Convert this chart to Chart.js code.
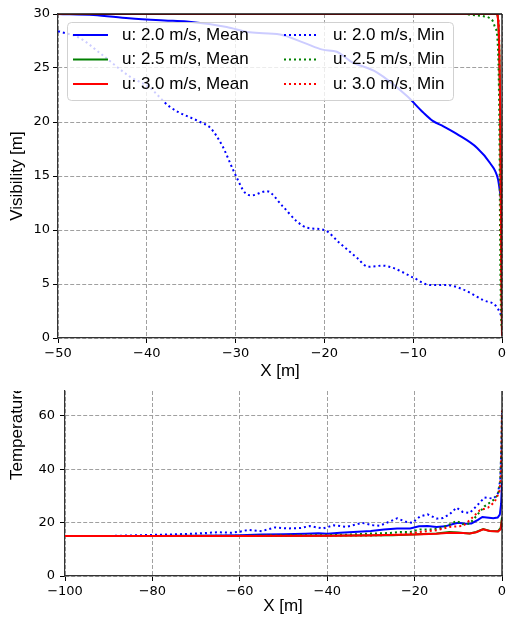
<!DOCTYPE html>
<html>
<head>
<meta charset="utf-8">
<script src="https://cdn.jsdelivr.net/npm/chart.js@4"></script>
<style>
  html, body { margin: 0; padding: 0; background: #fff; }
  #wrap { position: relative; width: 506px; height: 618px; }
  canvas { position: absolute; left: 0; }
</style>
</head>
<body>
<div id="wrap">
  <canvas id="visChart" width="506" height="380" style="top:0px"></canvas>
  <canvas id="tempChart" width="506" height="238" style="top:380px"></canvas>
</div>
<script>
// ---- series names / colours (legend order: means then mins)
const seriesLabels = ["u: 2.0 m/s, Mean", "u: 2.5 m/s, Mean", "u: 3.0 m/s, Mean",
                      "u: 2.0 m/s, Min", "u: 2.5 m/s, Min", "u: 3.0 m/s, Min"];
const seriesColors = ["#0000ff", "#008000", "#ff0000", "#0000ff", "#008000", "#ff0000"];

// ---- top panel: visibility [m] vs X [m]
const visTicksX = [-50, -40, -30, -20, -10, 0];
const visTicksY = [0, 5, 10, 15, 20, 25, 30];

const visX_u20_mean = [-50, -46, -42, -38, -35.5, -31, -28.4, -25, -22.2, -20.2, -18.6, -17, -14.1, -10.7, -8.9, -7.8, -6.6, -5.1, -2.8, -1.35, -0.45, -0.15, 0];
const visY_u20_mean = [30, 29.9, 29.6, 29.4, 29.3, 28.8, 28.3, 28.1, 27.3, 26.7, 26.5, 25.6, 24.6, 22.4, 20.9, 20.1, 19.6, 18.9, 17.6, 16.2, 14.7, 13.1, 12.5];

const visX_u25_mean = [-50, -0.6, -0.45, -0.3, -0.2, -0.1, 0];
const visY_u25_mean = [30, 30, 29.6, 26.5, 21, 10, 0.3];

const visX_u30_mean = [-50, -0.6, -0.45, -0.3, -0.2, -0.1, 0];
const visY_u30_mean = [30, 30, 29.5, 26, 21, 10, 0.2];

const visX_u20_min = [-50, -47.6, -45.3, -41.9, -39.7, -37.4, -34, -32.9, -31.5, -30.3, -29.9, -29, -28.2, -26.5, -24.7, -23.1, -21.9, -20, -18.3, -16.3, -15.1, -13.4, -12.3, -10, -8.1, -6.2, -4.4, -2.1, -0.6, 0];
const visY_u20_min = [28.4, 27.8, 26.4, 24.2, 23.2, 21.4, 20.0, 19.5, 17.8, 15.6, 14.9, 13.5, 13.2, 13.6, 12.2, 10.8, 10.2, 10.0, 8.8, 7.4, 6.6, 6.7, 6.5, 5.6, 4.9, 4.9, 4.5, 3.5, 2.9, 1.9];

const visX_u25_min = [-50, -4.4, -3.3, -2.1, -1.35, -1.0, -0.8, -0.5, -0.3, -0.2, -0.1, 0];
const visY_u25_min = [30, 30, 29.9, 29.8, 29.6, 29.3, 28.8, 27.5, 20, 8, 2, 0.8];

const visX_u30_min = [-50, -0.6, -0.4, -0.3, -0.2, -0.1, 0];
const visY_u30_min = [30, 30, 29.5, 27, 18, 6, 0.5];

// ---- bottom panel: temperature vs X [m]
const tempTicksX = [-100, -80, -60, -40, -20, 0];
const tempTicksY = [0, 20, 40, 60];
const tempMaxY = 69.3;

const tempX_u20_mean = [-100, -90, -80, -72, -65, -60, -55, -50, -45, -42, -40, -37, -33, -30, -27, -24, -21, -19, -17, -15, -13, -11, -10, -8.5, -7, -5.5, -4.5, -3, -2, -1, -0.5, -0.2, 0];
const tempY_u20_mean = [15.0, 15.0, 15.0, 15.1, 15.2, 15.3, 15.5, 15.6, 15.8, 16.0, 15.8, 16.2, 16.6, 16.9, 17.4, 17.8, 17.8, 18.6, 18.7, 18.4, 18.6, 19.6, 19.9, 19.6, 19.7, 21.0, 22.1, 21.8, 21.6, 21.9, 23, 27, 35];

const tempX_u25_mean = [-100, -60, -40, -25, -15, -12, -10, -8.9, -7.4, -5.9, -4.3, -2.8, -0.9, -0.3, 0];
const tempY_u25_mean = [15.0, 15.0, 15.1, 15.3, 15.9, 16.5, 16.3, 16.1, 15.9, 16.5, 17.6, 16.9, 16.8, 18, 22];

const tempX_u30_mean = [-100, -60, -40, -30, -20, -15, -12, -8.9, -7.4, -5.9, -4.3, -2.8, -0.9, -0.3, 0];
const tempY_u30_mean = [15.0, 15.0, 15.1, 15.3, 15.5, 15.8, 16.2, 16.1, 15.9, 16.4, 17.5, 16.9, 16.7, 17.5, 21];

const tempX_u20_min = [-100, -90, -85, -80, -75, -70, -65, -62, -60, -58, -55, -52, -49, -46, -44, -41, -38.5, -35.5, -32, -29.5, -28, -24, -22, -20.5, -18.8, -17, -15, -13.5, -12, -10.4, -9, -7.4, -6, -4, -2, -1, -0.4, -0.1, 0];
const tempY_u20_min = [15.0, 15.0, 15.2, 15.4, 15.6, 15.9, 16.4, 16.2, 16.6, 17.3, 16.8, 18.2, 17.8, 18.0, 18.7, 17.8, 19.0, 18.4, 19.9, 19.0, 18.8, 21.6, 20.3, 19.9, 22.3, 23.1, 21.5, 21.7, 23.1, 25.6, 24.0, 23.6, 25.9, 29.4, 29.0, 30.5, 35.9, 50, 61];

const tempX_u25_min = [-100, -80, -60, -50, -40, -35, -30, -25.6, -23.4, -21, -18.8, -16.5, -14.3, -12, -10.4, -8.9, -7.4, -5.9, -4, -2, -0.9, -0.4, -0.15, 0];
const tempY_u25_min = [15.0, 15.0, 15.1, 15.2, 15.3, 15.5, 15.9, 16.1, 16.5, 16.5, 17.4, 17.4, 17.8, 19.3, 20.6, 19.4, 19.6, 22.4, 26.1, 28.4, 30.5, 35, 48, 61];

const tempX_u30_min = [-100, -80, -60, -40, -30, -25, -22, -18.8, -15, -12, -8.9, -7.4, -5.1, -3.2, -1.7, -0.6, -0.3, -0.1, 0];
const tempY_u30_min = [15.0, 15.0, 15.0, 15.1, 15.2, 15.4, 15.7, 16.5, 17.1, 18.4, 18.75, 20.9, 24.6, 25.6, 27.7, 31.5, 36, 50, 62];

// ---- helpers
function pts(xs, ys) {
  return xs.map((x, i) => ({ x: x, y: ys[i] }));
}

function makeSets(pairs, smooth) {
  return pairs.map((p, i) => ({
    label: seriesLabels[i],
    data: pts(p[0], p[1]),
    borderColor: seriesColors[i],
    borderWidth: 2,
    borderDash: i >= 3 ? [2, 3] : [],
    pointRadius: 0,
    fill: false,
    order: 6 - i,
    cubicInterpolationMode: smooth ? "monotone" : "default",
    tension: 0
  }));
}

const minus = v => String(v).replace("-", "\u2212");
const tickFont = { family: "DejaVu Sans", size: 13 };
const labelFont = '17px "Liberation Sans"';

function xAxis(ticks, h) {
  return {
    type: "linear",
    min: ticks[0],
    max: ticks[ticks.length - 1],
    afterBuildTicks: s => { s.ticks = ticks.map(v => ({ value: v })); },
    ticks: { color: "#000", font: tickFont, padding: 3, maxRotation: 0, autoSkip: false, callback: minus },
    grid: { color: "#a0a0a0", lineWidth: 1, tickColor: "#000", tickLength: 5, tickBorderDash: [] },
    border: { color: "#333", width: 1.2, dash: [4, 2] },
    afterFit: s => { s.height = h; s.paddingLeft = 0; s.paddingRight = 0; }
  };
}

function yAxis(ticks, max, w, pad) {
  return {
    min: 0,
    max: max,
    afterBuildTicks: s => { s.ticks = ticks.map(v => ({ value: v })); },
    ticks: { color: "#000", font: tickFont, padding: pad, autoSkip: false, callback: minus },
    grid: { color: "#a0a0a0", lineWidth: 1, tickColor: "#000", tickLength: 5, tickBorderDash: [] },
    border: { color: "#333", width: 1.2, dash: [4, 2] },
    afterFit: s => { s.width = w; s.paddingTop = 0; s.paddingBottom = 0; }
  };
}

// spines on top / right, axis titles
function decor(opts) {
  return {
    id: "decor",
    afterDraw(chart) {
      const ctx = chart.ctx, a = chart.chartArea;
      ctx.save();
      ctx.strokeStyle = "#111";
      ctx.lineWidth = 1.3;
      ctx.beginPath();
      if (opts.top) { ctx.moveTo(a.left, a.top); ctx.lineTo(a.right, a.top); }
      ctx.moveTo(a.right, a.top); ctx.lineTo(a.right, a.bottom);
      ctx.stroke();
      ctx.fillStyle = "#000";
      ctx.font = labelFont;
      ctx.textBaseline = "middle";
      ctx.textAlign = "center";
      ctx.fillText(opts.xTitle, opts.xTitlePos[0], opts.xTitlePos[1]);
      ctx.save();
      if (opts.clipTop !== undefined) {
        ctx.beginPath();
        ctx.rect(0, opts.clipTop, 60, chart.height);
        ctx.clip();
      }
      ctx.translate(opts.yTitlePos[0], opts.yTitlePos[1]);
      ctx.rotate(-Math.PI / 2);
      ctx.textAlign = opts.yAlign;
      ctx.fillText(opts.yTitle, 0, 0);
      ctx.restore();
      ctx.restore();
    }
  };
}

const legendBox = {
  id: "legendBox",
  afterDatasetsDraw(chart) {
    const ctx = chart.ctx;
    ctx.save();
    ctx.beginPath();
    if (ctx.roundRect) ctx.roundRect(67.5, 22.5, 386, 78, 4);
    else ctx.rect(67.5, 22.5, 386, 78);
    ctx.fillStyle = "rgba(255,255,255,0.8)";
    ctx.fill();
    ctx.strokeStyle = "rgba(204,204,204,0.9)";
    ctx.lineWidth = 1;
    ctx.stroke();
    ctx.font = labelFont;
    ctx.textBaseline = "middle";
    ctx.textAlign = "left";
    chart.data.datasets.forEach((ds, i) => {
      const col = Math.floor(i / 3), row = i % 3;
      const y = 35 + row * 24.5;
      const x0 = col ? 284 : 73;
      ctx.beginPath();
      ctx.setLineDash(ds.borderDash);
      ctx.strokeStyle = ds.borderColor;
      ctx.lineWidth = 2;
      ctx.moveTo(x0, y);
      ctx.lineTo(x0 + 35, y);
      ctx.stroke();
      ctx.setLineDash([]);
      ctx.fillStyle = "#000";
      ctx.fillText(ds.label, x0 + 49, y);
    });
    ctx.restore();
  }
};

new Chart(document.getElementById("visChart"), {
  type: "line",
  data: {
    datasets: makeSets([
      [visX_u20_mean, visY_u20_mean], [visX_u25_mean, visY_u25_mean], [visX_u30_mean, visY_u30_mean],
      [visX_u20_min, visY_u20_min], [visX_u25_min, visY_u25_min], [visX_u30_min, visY_u30_min]
    ], true)
  },
  options: {
    responsive: false,
    animation: false,
    devicePixelRatio: 1,
    layout: { padding: { left: 0, right: 4, top: 14, bottom: 0 } },
    plugins: { legend: { display: false }, tooltip: { enabled: false } },
    scales: {
      x: xAxis(visTicksX, 42),
      y: yAxis(visTicksY, 30, 58, 3)
    }
  },
  plugins: [legendBox, decor({ top: true, xTitle: "X [m]", xTitlePos: [280, 371.5], yTitle: "Visibility [m]", yTitlePos: [17, 176], yAlign: "center" })]
});

new Chart(document.getElementById("tempChart"), {
  type: "line",
  data: {
    datasets: makeSets([
      [tempX_u20_mean, tempY_u20_mean], [tempX_u25_mean, tempY_u25_mean], [tempX_u30_mean, tempY_u30_mean],
      [tempX_u20_min, tempY_u20_min], [tempX_u25_min, tempY_u25_min], [tempX_u30_min, tempY_u30_min]
    ], false)
  },
  options: {
    responsive: false,
    animation: false,
    devicePixelRatio: 1,
    layout: { padding: { left: 0, right: 4, top: 11, bottom: 0 } },
    plugins: { legend: { display: false }, tooltip: { enabled: false } },
    scales: {
      x: xAxis(tempTicksX, 42),
      y: yAxis(tempTicksY, tempMaxY, 65, 5)
    }
  },
  plugins: [decor({ top: false, xTitle: "X [m]", xTitlePos: [283, 226], yTitle: "Temperature", yTitlePos: [17.5, 100], yAlign: "left", clipTop: 11 })]
});
</script>
</body>
</html>
